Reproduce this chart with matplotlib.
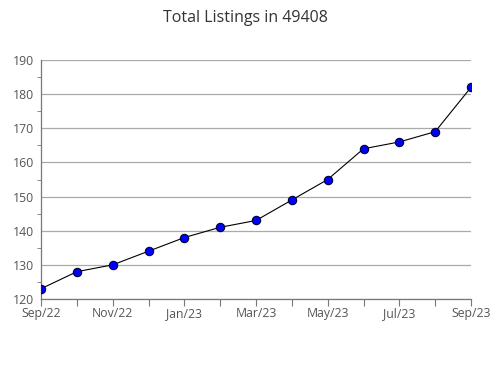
import matplotlib
matplotlib.use("Agg")
import matplotlib.pyplot as plt
from matplotlib.ticker import MultipleLocator

# monthly totals, Sep/22 .. Sep/23
months = ["Sep/22", "Oct/22", "Nov/22", "Dec/22", "Jan/23", "Feb/23", "Mar/23",
          "Apr/23", "May/23", "Jun/23", "Jul/23", "Aug/23", "Sep/23"]
listings = [123, 128, 130, 134, 138, 141, 143, 149, 155, 164, 166, 169, 182]

plt.rcParams['font.family'] = ['Open Sans', 'DejaVu Sans']

fig = plt.figure(figsize=(4.9, 3.8), dpi=100)
ax = fig.add_axes([41/490, 1-299/380, 430/490, 239/380])

x = list(range(len(months)))
ax.plot(x, listings, color="black", lw=0.8, zorder=3,
        marker="o", ms=6, mfc="#0000ff", mec="#000033", mew=0.8)

ax.set_xlim(0, len(months)-1)
ax.set_ylim(120, 190)
ax.set_xticks(x)
ax.set_xticklabels([m if i % 2 == 0 else "" for i, m in enumerate(months)])
ax.yaxis.set_major_locator(MultipleLocator(10))
ax.yaxis.set_minor_locator(MultipleLocator(5))

ax.grid(axis="y", color="#aaaaaa", lw=0.9)
ax.set_axisbelow(True)
for s in ["top", "right"]:
    ax.spines[s].set_visible(False)
for s in ["left", "bottom"]:
    ax.spines[s].set_color("#777777")
    ax.spines[s].set_linewidth(0.9)

ax.tick_params(axis="x", length=5, color="#777777", labelsize=8.8, labelcolor="#555555", pad=1)
ax.tick_params(axis="y", which="major", length=0, labelsize=8.8, labelcolor="#555555", pad=5)
ax.tick_params(axis="y", which="minor", length=3, color="#777777")

fig.suptitle("Total Listings in 49408", y=0.975, fontsize=11.5, color="#333333")

fig.savefig("out.png", dpi=100)
